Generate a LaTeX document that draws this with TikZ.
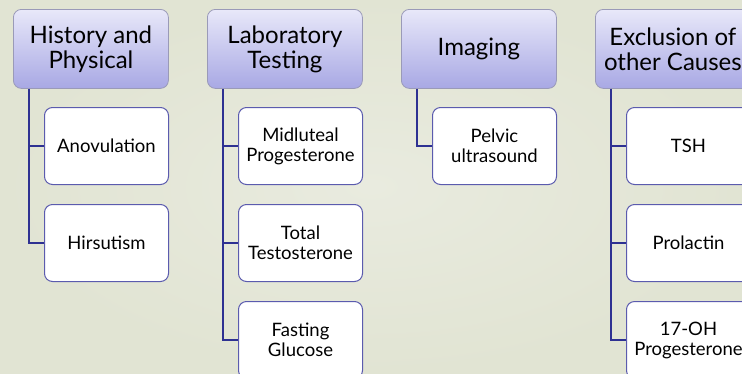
\documentclass[tikz,border=0pt]{standalone}
\usepackage{fontspec}
\setmainfont{Lato}
\usetikzlibrary{positioning,calc}
\definecolor{bgcol}{HTML}{E1E4D3}
\definecolor{bglight}{HTML}{E9EBDF}
\definecolor{linkcol}{HTML}{2E3192}
\definecolor{headtop}{HTML}{E8E8F9}
\definecolor{headbot}{HTML}{A8A8E4}
\definecolor{headline}{HTML}{9A9AB8}
\definecolor{itemline}{HTML}{5B5BAE}
\tikzset{
	header/.style={draw=headline, line width=0.8pt, rounded corners=8pt, top color=headtop, bottom color=headbot,
		minimum width=155pt, minimum height=79pt, inner sep=0pt, align=center, anchor=north west,
		font=\fontsize{24}{25}\selectfont},
	item/.style={draw=itemline, line width=1pt, rounded corners=8pt, fill=white,
		minimum width=124pt, minimum height=77pt, inner sep=0pt, align=center, anchor=north west,
		font=\fontsize{18.5}{20}\selectfont},
	link/.style={draw=linkcol, line width=2.6pt}
}

\begin{document}
\begin{tikzpicture}[x=1pt,y=1pt]
	\clip (0,0) rectangle (742,-373);
	\shade[inner color=bglight, outer color=bgcol] (0,0) rectangle (742,-373);

	% column 1
	\node[header] (hist) at (13,-9) {History and\\Physical};
	\node[item] (anov) at (44,-107) {Anovulation};
	\node[item] (hirs) at (44,-204) {Hirsutism};
	\draw[link] ([xshift=16pt]hist.south west) |- (anov.west);
	\draw[link] ([xshift=16pt]hist.south west) |- (hirs.west);

	% column 2
	\node[header] (lab) at (207,-9) {Laboratory\\Testing};
	\node[item] (prog) at (238,-107) {Midluteal\\Progesterone};
	\node[item] (testo) at (238,-204) {Total\\Testosterone};
	\node[item] (gluc) at (238,-301) {Fasting\\Glucose};
	\draw[link] ([xshift=16pt]lab.south west) |- (prog.west);
	\draw[link] ([xshift=16pt]lab.south west) |- (testo.west);
	\draw[link] ([xshift=16pt]lab.south west) |- (gluc.west);

	% column 3
	\node[header] (img) at (401,-9) {Imaging};
	\node[item] (pelv) at (432,-107) {Pelvic\\ultrasound};
	\draw[link] ([xshift=16pt]img.south west) |- (pelv.west);

	% column 4
	\node[header] (excl) at (595,-9) {Exclusion of\\other Causes};
	\node[item] (tsh) at (626,-107) {TSH};
	\node[item] (prl) at (626,-204) {Prolactin};
	\node[item] (ohp) at (626,-301) {17-OH\\Progesterone};
	\draw[link] ([xshift=16pt]excl.south west) |- (tsh.west);
	\draw[link] ([xshift=16pt]excl.south west) |- (prl.west);
	\draw[link] ([xshift=16pt]excl.south west) |- (ohp.west);
\end{tikzpicture}
\end{document}
